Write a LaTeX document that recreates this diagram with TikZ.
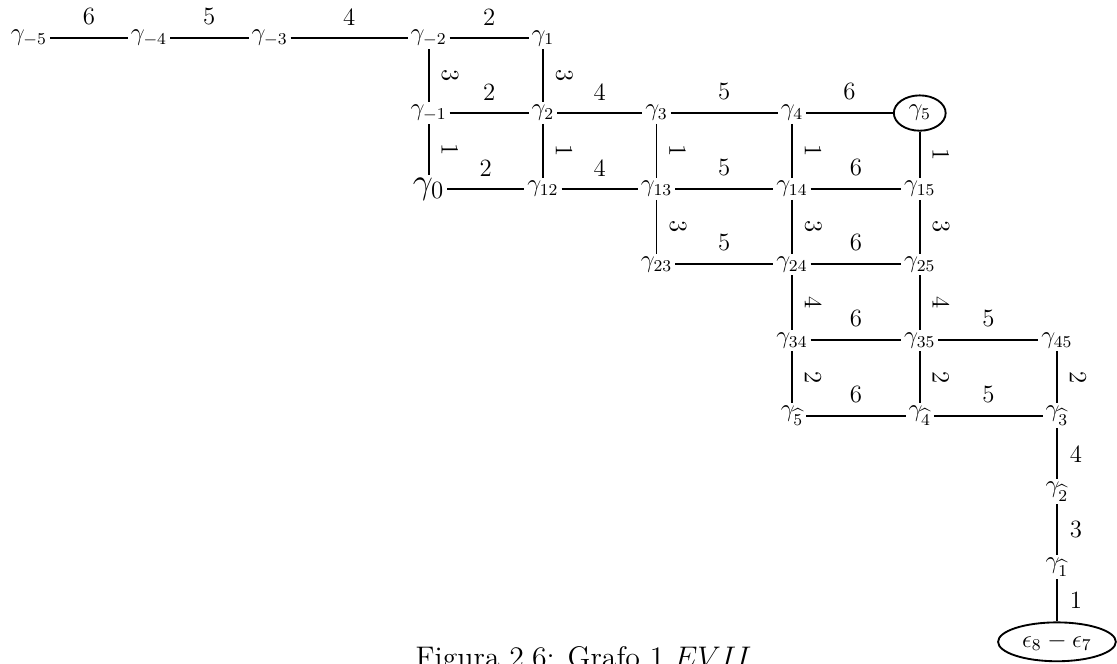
\documentclass[12pt,tikz,border=0pt]{standalone}
\usetikzlibrary{shapes.geometric}
\begin{document}
\begin{tikzpicture}[line width=0.9pt,
    v/.style={inner sep=1pt},
    ring/.style={draw,ellipse,inner sep=1pt},
    lbl/.style={inner sep=5.8pt}]
  \useasboundingbox (0,0) rectangle (18.97,-11.26);
  % row of negative roots
  \node[v] (gm5) at (0.49,-0.65) {$\gamma_{-5}$};
  \node[v] (gm4) at (2.53,-0.65) {$\gamma_{-4}$};
  \node[v] (gm3) at (4.58,-0.65) {$\gamma_{-3}$};
  \node[v] (gm2) at (7.28,-0.65) {$\gamma_{-2}$};
  \node[v] (g1)  at (9.22,-0.65) {$\gamma_{1}$};
  \node[v] (gm1) at (7.28,-1.92) {$\gamma_{-1}$};
  \node[v] (g2)  at (9.22,-1.92) {$\gamma_{2}$};
  \node[v] (g3)  at (11.15,-1.92) {$\gamma_{3}$};
  \node[v] (g4)  at (13.45,-1.92) {$\gamma_{4}$};
  \node[ring,minimum width=0.88cm,minimum height=0.6cm] (g5) at (15.62,-1.92) {$\gamma_{5}$};
  \node[v] (g0)  at (7.28,-3.21) {\Large$\gamma_{0}$};
  \node[v] (g12) at (9.22,-3.21) {$\gamma_{12}$};
  \node[v] (g13) at (11.15,-3.21) {$\gamma_{13}$};
  \node[v] (g14) at (13.45,-3.21) {$\gamma_{14}$};
  \node[v] (g15) at (15.62,-3.21) {$\gamma_{15}$};
  \node[v] (g23) at (11.15,-4.49) {$\gamma_{23}$};
  \node[v] (g24) at (13.45,-4.49) {$\gamma_{24}$};
  \node[v] (g25) at (15.62,-4.49) {$\gamma_{25}$};
  \node[v] (g34) at (13.45,-5.78) {$\gamma_{34}$};
  \node[v] (g35) at (15.62,-5.78) {$\gamma_{35}$};
  \node[v] (g45) at (17.95,-5.78) {$\gamma_{45}$};
  % hatted roots and the tail
  \node[v] (h5) at (13.45,-7.06) {$\gamma_{\widehat{5}}$};
  \node[v] (h4) at (15.62,-7.06) {$\gamma_{\widehat{4}}$};
  \node[v] (h3) at (17.95,-7.06) {$\gamma_{\widehat{3}}$};
  \node[v] (h2) at (17.95,-8.35) {$\gamma_{\widehat{2}}$};
  \node[v] (h1) at (17.95,-9.63) {$\gamma_{\widehat{1}}$};
  \node[ring,minimum width=2cm,minimum height=0.66cm] (e87) at (17.95,-10.90) {$\epsilon_8-\epsilon_7$};
  % horizontal edges
  \foreach \a/\b/\w in {gm5/gm4/6,gm4/gm3/5,gm3/gm2/4,gm2/g1/2,gm1/g2/2,g2/g3/4,
      g3/g4/5,g4/g5/6,g0/g12/2,g12/g13/4,g13/g14/5,g14/g15/6,g23/g24/5,g24/g25/6,
      g34/g35/6,g35/g45/5,h5/h4/6,h4/h3/5} {
    \draw (\a) -- node[lbl,above]{\w} (\b);
  }
  % vertical edges, weights turned along the edge
  \foreach \a/\b/\w in {gm2/gm1/3,g1/g2/3,gm1/g0/1,g2/g12/1,g3/g13/1,g4/g14/1,
      g5/g15/1,g13/g23/3,g14/g24/3,g15/g25/3,g24/g34/4,g25/g35/4,
      g34/h5/2,g35/h4/2,g45/h3/2} {
    \draw (\a) -- node[lbl,sloped,above]{\w} (\b);
  }
  \foreach \a/\b/\w in {h3/h2/4,h2/h1/3,h1/e87/1} {
    \draw (\a) -- node[lbl,right]{\w} (\b);
  }
  \node[anchor=base] (cap) at (9.91,-11.34) {\large Figura 2.6: Grafo 1 $EVII$};
\end{tikzpicture}
\end{document}
